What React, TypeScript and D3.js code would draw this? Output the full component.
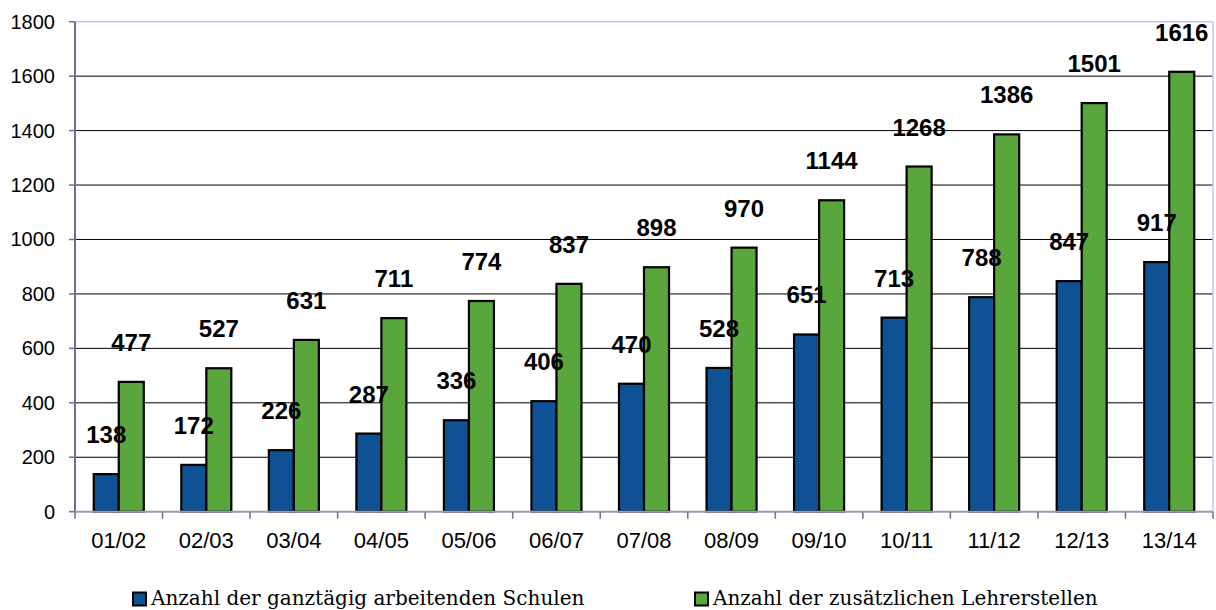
import React from "react";
import * as d3 from "d3";

const categories = ["01/02", "02/03", "03/04", "04/05", "05/06", "06/07", "07/08", "08/09", "09/10", "10/11", "11/12", "12/13", "13/14"];
const schulen = [138, 172, 226, 287, 336, 406, 470, 528, 651, 713, 788, 847, 917];
const lehrerstellen = [477, 527, 631, 711, 774, 837, 898, 970, 1144, 1268, 1386, 1501, 1616];
const yTicks = [0, 200, 400, 600, 800, 1000, 1200, 1400, 1600, 1800];
const seriesNames = ["Anzahl der ganztägig arbeitenden Schulen", "Anzahl der zusätzlichen Lehrerstellen"];
const seriesKeys = ["schulen", "lehrer"];
const colors = ["#0e5293", "#58a63c"];

export default function App() {
  const W = 1216, H = 610;
  const left = 75, right = 1213, top = 21.7, bottom = 511.7;
  const x = d3.scaleBand<string>().domain(categories).range([left, right]).padding(0);
  const inner = d3.scaleBand<string>().domain(seriesKeys).range([0, x.bandwidth()]).paddingInner(0).paddingOuter(0.75);
  const y = d3.scaleLinear().domain([0, 1800]).range([bottom, top]);
  const data = [schulen, lehrerstellen];
  const labelFont = "Arial, 'Liberation Sans', sans-serif";

  return (
    <svg width={W} height={H} style={{ position: "absolute", left: 0, top: 0, background: "#fff" }}>
      {yTicks.filter(t => t > 0 && t < 1800).map(t => (
        <line key={t} x1={left} x2={right} y1={y(t)} y2={y(t)} stroke="#000" strokeWidth={1} />
      ))}
      <line x1={left} x2={right} y1={y(1800)} y2={y(1800)} stroke="#c4c4f4" strokeWidth={1.5} />
      <line x1={right} x2={right} y1={y(1800)} y2={bottom} stroke="#c4c4f4" strokeWidth={1.5} />
      {data.map((vals, si) =>
        vals.map((v, i) => {
          const bx = (x(categories[i]) as number) + (inner(seriesKeys[si]) as number);
          return (
            <rect key={si + "-" + i} x={bx} y={y(v)} width={inner.bandwidth()} height={bottom - y(v)}
              fill={colors[si]} stroke="#000" strokeWidth={2.2} />
          );
        })
      )}
      <line x1={left} x2={left} y1={y(1800)} y2={bottom} stroke="#6e6e8e" strokeWidth={2} />
      <line x1={left} x2={right} y1={bottom} y2={bottom} stroke="#9a9ab8" strokeWidth={2} />
      {yTicks.map(t => (
        <g key={"yt" + t}>
          <line x1={left - 6} x2={left} y1={y(t)} y2={y(t)} stroke="#6e6e8e" strokeWidth={1.5} />
          <text x={55} y={y(t)} dy="0.35em" textAnchor="end" fontFamily={labelFont} fontSize={20} fill="#000">{t}</text>
        </g>
      ))}
      {categories.map((c, i) => (
        <g key={"xt" + c}>
          <line x1={(x(c) as number)} x2={(x(c) as number)} y1={bottom} y2={bottom + 7} stroke="#6e6e8e" strokeWidth={1.5} />
          <text x={(x(c) as number) + x.bandwidth() / 2} y={548} textAnchor="middle" fontFamily={labelFont} fontSize={22} fill="#000">{c}</text>
        </g>
      ))}
      <line x1={right} x2={right} y1={bottom} y2={bottom + 7} stroke="#6e6e8e" strokeWidth={1.5} />
      {data.map((vals, si) =>
        vals.map((v, i) => {
          const cx = (x(categories[i]) as number) + (inner(seriesKeys[si]) as number) + inner.bandwidth() / 2;
          return (
            <text key={"l" + si + "-" + i} x={cx} y={y(v) - 31} textAnchor="middle" fontFamily={labelFont}
              fontWeight="bold" fontSize={24} fill="#000">{v}</text>
          );
        })
      )}
      {[133, 695].map((lx, si) => (
        <g key={"lg" + si}>
          <rect x={lx} y={592.5} width={13} height={13} fill={colors[si]} stroke="#000" strokeWidth={2} />
          <text x={lx + 18} y={605} fontFamily="'DejaVu Serif', serif" fontSize={20} fill="#000">{seriesNames[si]}</text>
        </g>
      ))}
    </svg>
  );
}
